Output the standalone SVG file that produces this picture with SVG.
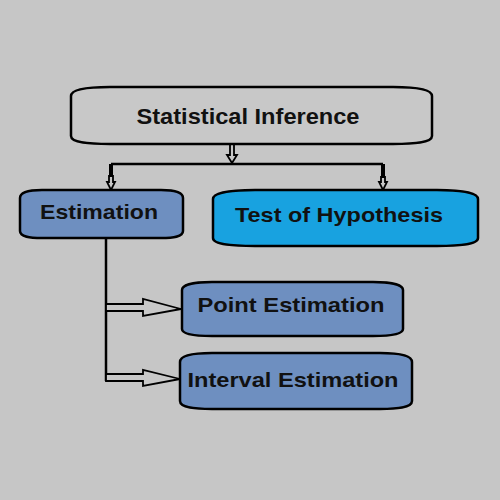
<svg xmlns="http://www.w3.org/2000/svg" width="500" height="500" viewBox="0 0 500 500">
<style>
.box{stroke:#000;stroke-width:2.5}
.lbl{font-family:"Liberation Sans",Arial,sans-serif;font-weight:bold;fill:#111;text-anchor:middle}
.ln{stroke:#000;stroke-width:2.5;fill:none}
.ar{fill:#c8c8c8;stroke:#000;stroke-width:1.8;stroke-linejoin:miter}
</style>
<rect width="500" height="500" fill="#c6c6c6"/>
<g id="connectors">
<line class="ln" x1="111" y1="164" x2="383" y2="164"/>
<polygon class="ar" points="230,144 234,144 234,155 237,155 232,163 227,155 230,155"/>
<line class="ln" x1="111" y1="164" x2="111" y2="176" style="stroke-width:4"/>
<polygon class="ar" points="109,176 113,176 113,182 115,182 111,190 107,182 109,182"/>
<line class="ln" x1="383" y1="164" x2="383" y2="177" style="stroke-width:4"/>
<polygon class="ar" points="381,177 385,177 385,182 387,182 383,190 379,182 381,182"/>
<line class="ln" x1="106" y1="238" x2="106" y2="381"/>
<polygon class="ar" points="106,304 143,304 143,299 181,309 143,316 143,311 106,311"/>
<polygon class="ar" points="106,374 143,374 143,370 180,379 143,386 143,381 106,381"/>
</g>
<g id="statistical-inference">
<path class="box" fill="#c8c8c8" d="M71,96 C71,89 90,87 110,87 L393,87 C413,87 432,89 432,96 L432,136 C432,143 413,144 393,144 L110,144 C90,144 71,143 71,136 Z"/>
<text class="lbl" x="248" y="124" font-size="22" textLength="223" lengthAdjust="spacingAndGlyphs">Statistical Inference</text>
</g>
<g id="estimation">
<path class="box" fill="#6e8fc0" d="M20,198 C20,192 30,190 42,190 L161,190 C173,190 183,192 183,198 L183,231 C183,237 173,238 161,238 L42,238 C30,238 20,237 20,231 Z"/>
<text class="lbl" x="99" y="219" font-size="21" textLength="118" lengthAdjust="spacingAndGlyphs">Estimation</text>
</g>
<g id="test-of-hypothesis">
<path class="box" fill="#18a2e0" d="M213,199 C213,192 235,190 255,190 L437,190 C457,190 478,192 478,199 L478,238 C478,245 457,246 437,246 L255,246 C235,246 213,245 213,238 Z"/>
<text class="lbl" x="339" y="222" font-size="21" textLength="208" lengthAdjust="spacingAndGlyphs">Test of Hypothesis</text>
</g>
<g id="point-estimation">
<path class="box" fill="#6e8fc0" d="M182,290 C182,284 197,282 212,282 L373,282 C388,282 403,284 403,290 L403,329 C403,335 388,336 373,336 L212,336 C197,336 182,335 182,329 Z"/>
<text class="lbl" x="291" y="312" font-size="21" textLength="187" lengthAdjust="spacingAndGlyphs">Point Estimation</text>
</g>
<g id="interval-estimation">
<path class="box" fill="#6e8fc0" d="M180,362 C180,355 196,353 212,353 L380,353 C396,353 412,355 412,362 L412,401 C412,408 396,409 380,409 L212,409 C196,409 180,408 180,401 Z"/>
<text class="lbl" x="293" y="387" font-size="21" textLength="211" lengthAdjust="spacingAndGlyphs">Interval Estimation</text>
</g>
</svg>
